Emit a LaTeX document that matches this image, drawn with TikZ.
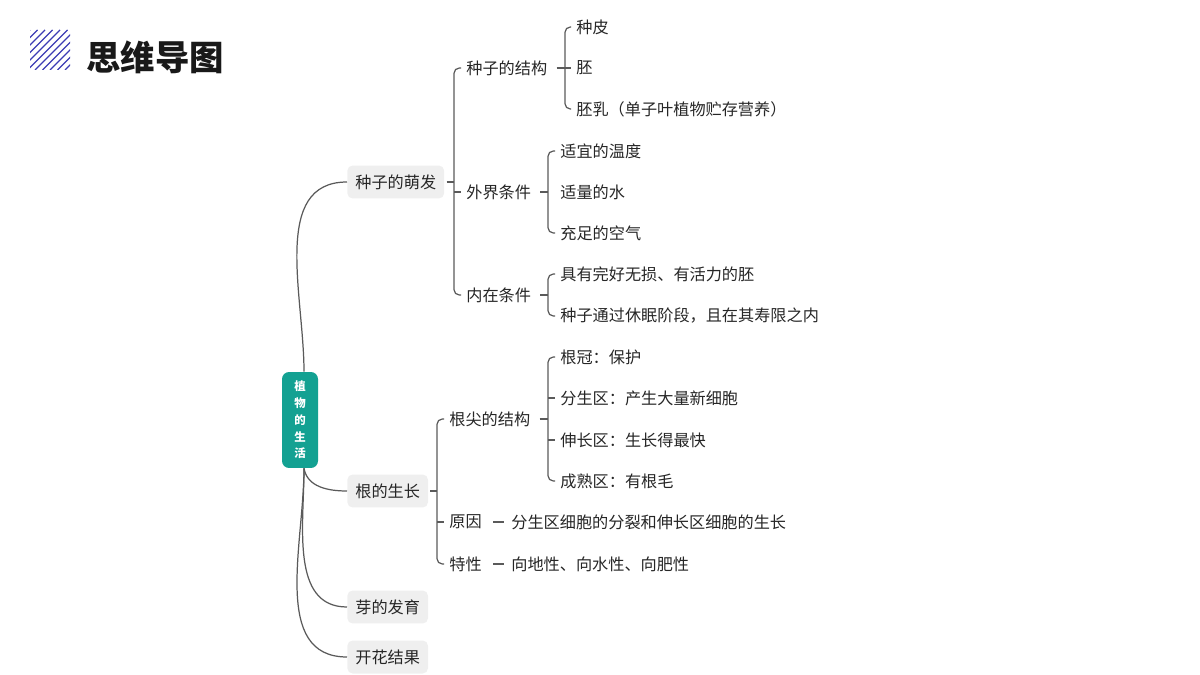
\documentclass[tikz,border=0pt]{standalone}
\usepackage{fontspec}
\setmainfont{Noto Sans CJK SC}
\usetikzlibrary{calc}

\definecolor{rootgreen}{HTML}{13A192}
\definecolor{topicgray}{HTML}{EFEFEF}
\definecolor{linegray}{HTML}{5A5A5A}
\definecolor{hatchblue}{HTML}{3C3CB4}

\tikzset{
    topic/.style={rectangle, fill=topicgray, rounded corners=3pt, inner xsep=0.16cm, minimum height=0.66cm, font=\fontsize{9.2}{11}\selectfont, text=black!85},
    leaf/.style={anchor=west, inner sep=0pt, font=\fontsize{9.2}{11}\selectfont, text=black!85},
    link/.style={draw=linegray, line width=0.7pt},
    bracket/.style={link, rounded corners=3pt}
}

\begin{document}
\begin{tikzpicture}[x=0.02cm, y=-0.02cm]
\useasboundingbox (0,0) rectangle (1200,675);

% Title
\begin{scope}
  \clip (30,30) rectangle (70,70);
  \foreach \d in {0,7.5,...,80}
    \draw[hatchblue, line width=0.8pt] (30+\d-40,70) -- (30+\d,30);
\end{scope}
\node[anchor=west, inner sep=0pt, font=\fontsize{19.6}{22}\selectfont\bfseries, text=black!90] (title) at (86,57) {思维导图};

% Root
\node[rectangle, fill=rootgreen, rounded corners=4pt, minimum width=0.72cm, minimum height=1.92cm, align=center, text=white, font=\fontsize{6.5}{9.5}\selectfont\bfseries] (root) at (300,420) {植\\物\\的\\生\\活};

% Main topics
\node[topic, anchor=west] (seed) at (347,182) {种子的萌发};
\node[topic, anchor=west] (root_grow) at (347,491) {根的生长};
\node[topic, anchor=west] (bud) at (347,607) {芽的发育};
\node[topic, anchor=west] (flower) at (347,657) {开花结果};

\draw[link] ([xshift=0.08cm]root.north) to[out=90, in=180] (seed.west);
\draw[link] ([xshift=0.08cm]root.south) to[out=-80, in=180] (root_grow.west);
\draw[link] ([xshift=0.08cm]root.south) to[out=-90, in=180] (bud.west);
\draw[link] ([xshift=0.08cm]root.south) to[out=-90, in=180] (flower.west);

% Seed branch
\node[leaf] (structure) at (466,68) {种子的结构};
\node[leaf] (outer) at (466,192) {外界条件};
\node[leaf] (inner) at (466,295) {内在条件};
\coordinate (seed_bx) at ($(structure.west)+(-12,0)$);
\draw[link] ($(seed.east)+(2,0)$) -- (seed.east -| seed_bx);
\draw[bracket] ($(structure.west)+(-5,0)$) -- ($(structure.west)+(-12,0)$) -- ($(inner.west)+(-12,0)$) -- ($(inner.west)+(-5,0)$);
\draw[link] ($(outer.west)+(-12,0)$) -- ($(outer.west)+(-5,0)$);

\node[leaf] (coat) at (576,27) {种皮};
\node[leaf] (embryo) at (576,68) {胚};
\node[leaf] (endosperm) at (576,109) {胚乳（单子叶植物贮存营养）};
\coordinate (struct_bx) at ($(coat.west)+(-11,0)$);
\draw[link] ($(structure.east)+(9,0)$) -- (structure.east -| struct_bx);
\draw[bracket] ($(coat.west)+(-5,0)$) -- ($(coat.west)+(-11,0)$) -- ($(endosperm.west)+(-11,0)$) -- ($(endosperm.west)+(-5,0)$);
\draw[link] ($(embryo.west)+(-11,0)$) -- ($(embryo.west)+(-5,0)$);

\node[leaf] (temp) at (560,151) {适宜的温度};
\node[leaf] (water) at (560,192) {适量的水};
\node[leaf] (air) at (560,233) {充足的空气};
\coordinate (outer_bx) at ($(temp.west)+(-12,0)$);
\draw[link] ($(outer.east)+(9,0)$) -- (outer.east -| outer_bx);
\draw[bracket] ($(temp.west)+(-5,0)$) -- ($(temp.west)+(-12,0)$) -- ($(air.west)+(-12,0)$) -- ($(air.west)+(-5,0)$);

\node[leaf] (intact) at (560,274) {具有完好无损、有活力的胚};
\node[leaf] (dormancy) at (560,316) {种子通过休眠阶段，且在其寿限之内};
\coordinate (inner_bx) at ($(intact.west)+(-12,0)$);
\draw[link] ($(inner.east)+(9,0)$) -- (inner.east -| inner_bx);
\draw[bracket] ($(intact.west)+(-5,0)$) -- ($(intact.west)+(-12,0)$) -- ($(dormancy.west)+(-12,0)$) -- ($(dormancy.west)+(-5,0)$);

% Root branch
\node[leaf] (tip) at (449,419) {根尖的结构};
\node[leaf] (cause) at (449,522) {原因};
\node[leaf] (trait) at (449,564) {特性};
\coordinate (grow_bx) at ($(tip.west)+(-12,0)$);
\draw[link] ($(root_grow.east)+(2,0)$) -- (root_grow.east -| grow_bx);
\draw[bracket] ($(tip.west)+(-5,0)$) -- ($(tip.west)+(-12,0)$) -- ($(trait.west)+(-12,0)$) -- ($(trait.west)+(-5,0)$);
\draw[link] ($(cause.west)+(-12,0)$) -- ($(cause.west)+(-5,0)$);

\node[leaf] (cap) at (560,357) {根冠：保护};
\node[leaf] (merist) at (560,398) {分生区：产生大量新细胞};
\node[leaf] (elong) at (560,440) {伸长区：生长得最快};
\node[leaf] (mature) at (560,481) {成熟区：有根毛};
\coordinate (tip_bx) at ($(cap.west)+(-12,0)$);
\draw[link] ($(tip.east)+(9,0)$) -- (tip.east -| tip_bx);
\draw[bracket] ($(cap.west)+(-5,0)$) -- ($(cap.west)+(-12,0)$) -- ($(mature.west)+(-12,0)$) -- ($(mature.west)+(-5,0)$);
\draw[link] ($(merist.west)+(-12,0)$) -- ($(merist.west)+(-5,0)$);
\draw[link] ($(elong.west)+(-12,0)$) -- ($(elong.west)+(-5,0)$);

\node[leaf] (cause_txt) at (511,522) {分生区细胞的分裂和伸长区细胞的生长};
\node[leaf] (trait_txt) at (511,564) {向地性、向水性、向肥性};
\draw[link] ($(cause.east)+(11,0)$) -- ($(cause_txt.west)+(-7,0)$);
\draw[link] ($(trait.east)+(11,0)$) -- ($(trait_txt.west)+(-7,0)$);
\end{tikzpicture}
\end{document}
